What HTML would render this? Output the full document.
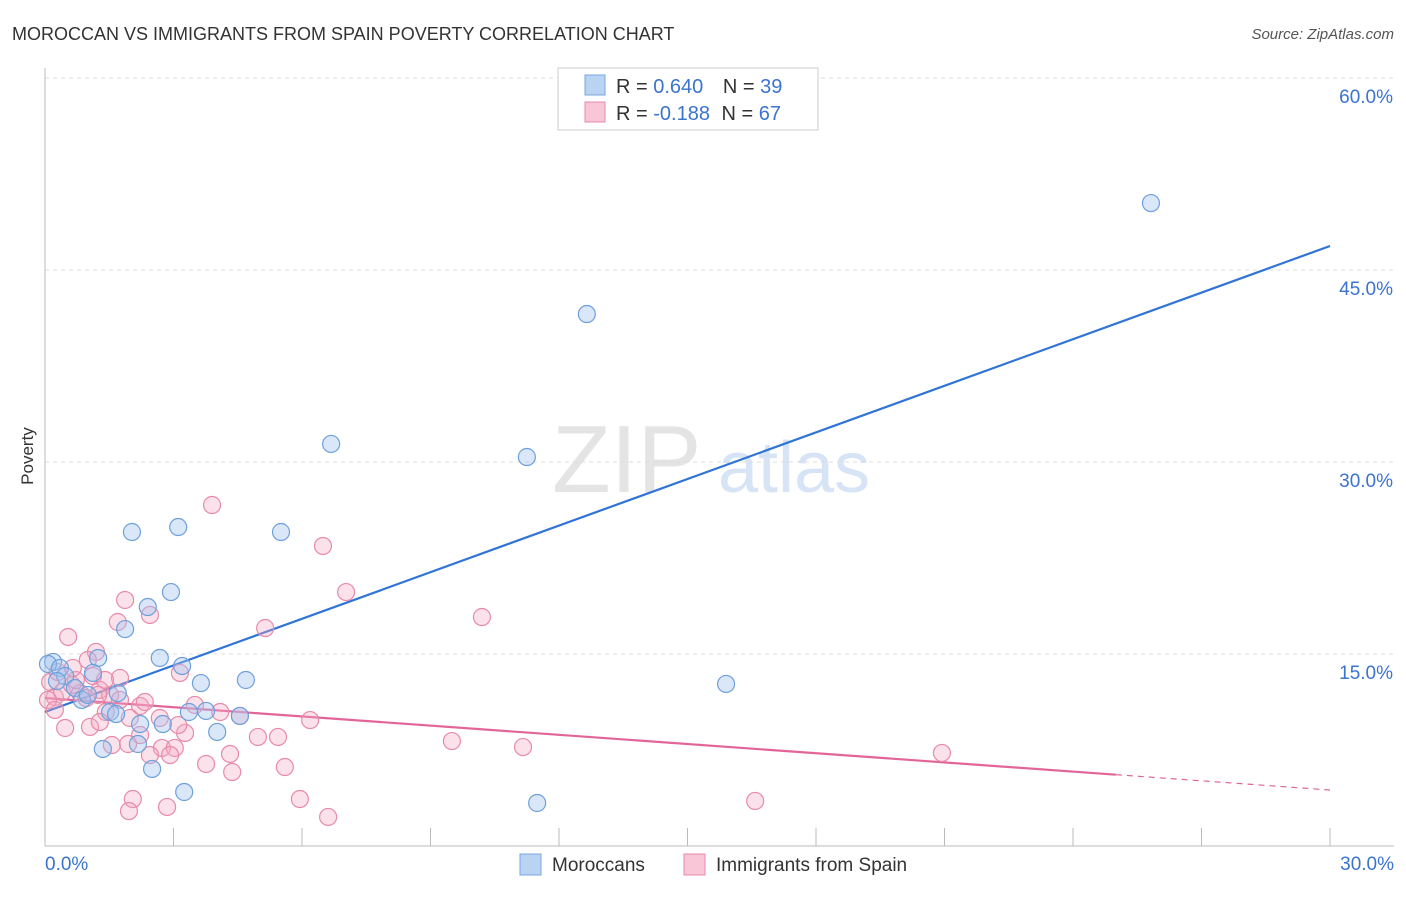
<!DOCTYPE html>
<html><head><meta charset="utf-8"><style>
body{margin:0;background:#fff;font-family:"Liberation Sans",sans-serif;}
svg text{font-family:"Liberation Sans",sans-serif;}
</style></head><body>
<svg id="chart" width="1406" height="892">
<text x="12" y="40" font-size="18" fill="#333">MOROCCAN VS IMMIGRANTS FROM SPAIN POVERTY CORRELATION CHART</text>
<text x="1394" y="39" font-size="15" fill="#555" font-style="italic" text-anchor="end">Source: ZipAtlas.com</text>
<text x="33" y="456" font-size="17" fill="#333" text-anchor="middle" transform="rotate(-90 33 456)">Poverty</text>
<g><text x="552" y="492" font-size="96" fill="#e4e4e4" font-family="Liberation Serif, serif">ZIP</text><text x="718" y="492" font-size="72" fill="#d6e4f5">atlas</text></g>
<g id="grid"></g><g id="axes"></g><g id="trend"></g><g id="pts"></g>
<g>
<rect x="558" y="68" width="260" height="62" fill="#fff" stroke="#ccc"/>
<rect x="585" y="75" width="20" height="20" fill="#b9d3f3" stroke="#7aa6df"/>
<text x="616" y="93" font-size="20" fill="#333">R = <tspan fill="#3a74d0">0.640</tspan>  <tspan dx="14">N = </tspan><tspan fill="#3a74d0">39</tspan></text>
<rect x="585" y="102" width="20" height="20" fill="#f8c6d6" stroke="#e88aaa"/>
<text x="616" y="120" font-size="20" fill="#333">R = <tspan fill="#3a74d0">-0.188</tspan>  <tspan dx="6">N = </tspan><tspan fill="#3a74d0">67</tspan></text>
</g>
<g>
<rect x="520" y="854" width="21" height="21" fill="#b9d3f3" stroke="#7aa6df"/>
<text x="552" y="871" font-size="19" fill="#333">Moroccans</text>
<rect x="684" y="854" width="21" height="21" fill="#f8c6d6" stroke="#e88aaa"/>
<text x="716" y="871" font-size="19" fill="#333">Immigrants from Spain</text>
</g>
</svg>
<script>
const blueX=[25.82,12.65,6.68,11.25,2.03,3.11,5.51,2.94,2.40,1.87,1.24,2.68,3.20,0.19,0.07,0.35,0.47,1.12,1.70,3.64,4.69,15.90,0.70,0.86,1.00,1.52,1.66,2.22,2.75,3.36,3.76,4.55,4.02,1.35,2.17,2.50,3.25,11.49,0.28];
const blueY=[50.23,41.56,31.41,30.39,24.53,24.92,24.53,19.84,18.67,16.95,14.69,14.69,14.06,14.38,14.22,13.91,13.28,13.52,11.95,12.73,12.97,12.66,12.34,11.41,11.80,10.47,10.31,9.53,9.53,10.47,10.55,10.16,8.91,7.58,7.97,6.02,4.22,3.36,12.89];
const pinkX=[3.90,6.49,7.03,10.20,1.87,2.45,1.70,0.54,5.14,1.19,1.12,1.75,3.15,1.28,1.52,0.12,0.23,0.40,0.63,0.82,0.96,1.42,2.22,3.50,4.09,6.19,1.05,0.47,1.28,1.98,2.68,3.27,2.22,1.56,1.94,2.73,3.03,2.45,2.92,4.32,4.97,5.44,9.50,11.16,20.94,3.76,4.37,5.60,2.05,1.96,2.85,5.95,6.61,16.58,1.75,0.07,0.30,0.72,1.24,2.33,1.00,0.65,1.40,3.11,4.55,0.23];
const pinkY=[26.64,23.44,19.84,17.89,19.22,18.05,17.50,16.33,17.03,15.16,13.28,13.13,13.52,12.19,11.80,12.81,11.64,12.03,12.58,11.95,11.56,10.47,10.94,11.02,10.47,9.84,9.30,9.22,9.69,10.00,10.00,8.83,8.67,7.89,7.97,7.66,7.66,7.11,7.11,7.19,8.52,8.52,8.20,7.73,7.27,6.41,5.78,6.17,3.67,2.73,3.05,3.67,2.27,3.52,11.41,11.41,13.59,12.97,11.80,11.25,14.53,13.91,12.97,9.45,10.16,10.63];
const blueTrend=[10.47,1.2135];
const pinkTrend=[11.56,-0.2395];
const pinkSolidEnd=25;
const yTicks=[15,30,45,60];
const xTickVals=[0,3,6,9,12,15,18,21,24,27,30];
const NS='http://www.w3.org/2000/svg';
const X=v=>45+v/30*1285, Y=v=>846-v/15*192;
function mk(parent,tag,attrs){const e=document.createElementNS(NS,tag);for(const k in attrs)e.setAttribute(k,attrs[k]);document.getElementById(parent).appendChild(e);return e;}
yTicks.forEach(t=>{
 const l=mk('grid','line',{x1:45,x2:1394,y1:Y(t),y2:Y(t),stroke:'#ddd','stroke-dasharray':'4,4'});
 
 
 const tx=mk('grid','text',{x:1393,y:Y(t)+25,'font-size':19,fill:'#3a74d0','text-anchor':'end'});tx.textContent=t.toFixed(1)+'%';
 
 
});
let a=mk('axes','line',{x1:45,x2:45,y1:68,y2:846,stroke:'#bbb'});


a=mk('axes','line',{x1:45,x2:1394,y1:846,y2:846,stroke:'#bbb'});


xTickVals.forEach(t=>{
 const l=mk('axes','line',{x1:X(t),x2:X(t),y1:828,y2:846,stroke:'#bbb'});
 
 
});
[[0,'start'],[30,'end']].forEach(([t,an])=>{
 const tx=mk('axes','text',{x:t==0?45:1394,y:870,'font-size':19,fill:'#3a74d0','text-anchor':an});tx.textContent=t.toFixed(1)+'%';
 
 
});
function pts(xs,ys,fill,stroke,name){xs.forEach((x,i)=>{
 const c=mk('pts','circle',{cx:X(x),cy:Y(ys[i]),r:8.5,fill:fill,stroke:stroke,'stroke-width':1.2});
 
 
});}
pts(pinkX,pinkY,'rgba(244,170,195,0.35)','#e88aaa','spain-point');
pts(blueX,blueY,'rgba(160,196,240,0.4)','#6fa0dc','moroccan-point');
let t=mk('trend','line',{x1:X(0),y1:Y(blueTrend[0]),x2:X(30),y2:Y(blueTrend[0]+30*blueTrend[1]),stroke:'#2f74d6','stroke-width':2.2});


t=mk('trend','line',{x1:X(0),y1:Y(pinkTrend[0]),x2:X(pinkSolidEnd),y2:Y(pinkTrend[0]+pinkSolidEnd*pinkTrend[1]),stroke:'#e2659a','stroke-width':2.2});


t=mk('trend','line',{x1:X(pinkSolidEnd),y1:Y(pinkTrend[0]+pinkSolidEnd*pinkTrend[1]),x2:X(30),y2:Y(pinkTrend[0]+30*pinkTrend[1]),stroke:'#e2659a','stroke-width':1.2,'stroke-dasharray':'6,5'});


</script>
</body></html>
